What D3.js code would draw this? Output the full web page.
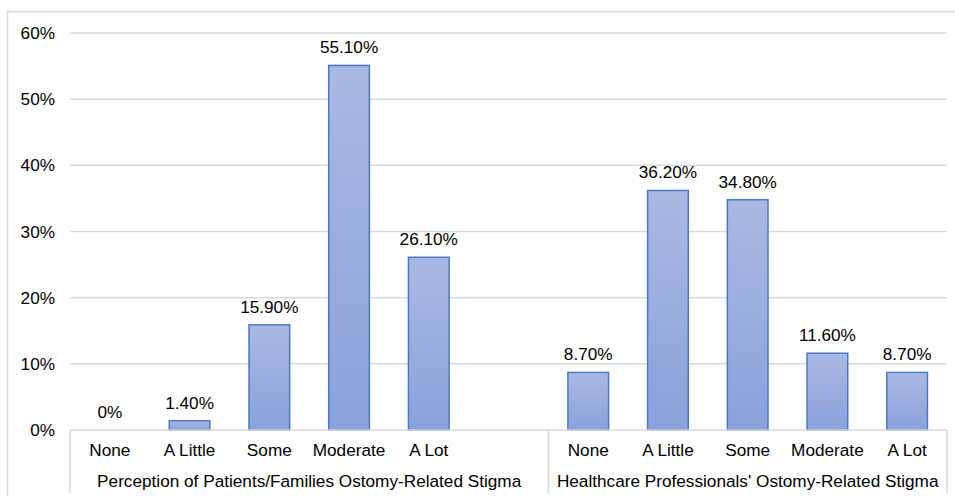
<!DOCTYPE html>
<html>
<head>
<meta charset="utf-8">
<script src="https://cdn.jsdelivr.net/npm/d3@7"></script>
<style>
  html, body { margin: 0; padding: 0; background: #fff; }
  svg { display: block; font-family: "Liberation Sans", Arial, Helvetica, sans-serif; }
</style>
</head>
<body>
<svg id="chart" width="955" height="496"></svg>
<script>
// Stigma ratings by source, as percentage of respondents
const levels = ["None", "A Little", "Some", "Moderate", "A Lot"];
const groups = [
  "Perception of Patients/Families Ostomy-Related Stigma",
  "Healthcare Professionals' Ostomy-Related Stigma"
];
const patientValues = [0, 1.4, 15.9, 55.1, 26.1];
const professionalValues = [8.7, 36.2, 34.8, 11.6, 8.7];
const valueLabels = [
  ["0%", "1.40%", "15.90%", "55.10%", "26.10%"],
  ["8.70%", "36.20%", "34.80%", "11.60%", "8.70%"]
];
const yTicks = [0, 10, 20, 30, 40, 50, 60];
const yTickLabels = ["0%", "10%", "20%", "30%", "40%", "50%", "60%"];

(function draw() {
  const fontSize = 17.2;

  // Slots along the x axis: the first group carries an empty trailing slot
  const slots = [];
  levels.forEach((l, i) => slots.push({ key: "g0-" + i, group: 0, level: l, value: patientValues[i], label: valueLabels[0][i] }));
  slots.push({ key: "g0-blank", group: 0, level: "", value: null, label: "" });
  levels.forEach((l, i) => slots.push({ key: "g1-" + i, group: 1, level: l, value: professionalValues[i], label: valueLabels[1][i] }));

  const svg = d3.select("#chart");
  const plotLeft = 70, plotRight = 947, plotTop = 33, plotBottom = 430;

  const x = d3.scaleBand().domain(slots.map(d => d.key)).range([plotLeft, plotRight]).padding(0);
  const y = d3.scaleLinear().domain([0, 60]).range([plotBottom, plotTop]);

  const defs = svg.append("defs");
  const grad = defs.append("linearGradient").attr("id", "barFill")
    .attr("x1", 0).attr("y1", 0).attr("x2", 0).attr("y2", 1);
  grad.append("stop").attr("offset", "0%").attr("stop-color", "#abb9e2");
  grad.append("stop").attr("offset", "100%").attr("stop-color", "#8aa1db");

  // Outer chart frame
  svg.append("rect")
    .attr("x", 7.5).attr("y", 11.5).attr("width", 960).attr("height", 500)
    .attr("fill", "none").attr("stroke", "#d9d9d9").attr("stroke-width", 1.5);

  // Horizontal gridlines
  svg.append("g").selectAll("line").data(yTicks.filter(t => t > 0)).join("line")
    .attr("x1", plotLeft).attr("x2", plotRight)
    .attr("y1", d => y(d)).attr("y2", d => y(d))
    .attr("stroke", "#d9d9d9").attr("stroke-width", 1.5);

  // Y axis labels
  svg.append("g").selectAll("text").data(yTicks).join("text")
    .attr("x", 55).attr("y", d => y(d)).attr("dy", "0.35em")
    .attr("text-anchor", "end").attr("font-size", fontSize).attr("fill", "#000")
    .text((d, i) => yTickLabels[i]);

  // Bars
  const bw = x.bandwidth() * 0.51;
  const barData = slots.filter(d => d.value !== null);
  svg.append("g").selectAll("rect").data(barData.filter(d => d.value > 0)).join("rect")
    .attr("x", d => x(d.key) + (x.bandwidth() - bw) / 2)
    .attr("y", d => y(d.value))
    .attr("width", bw)
    .attr("height", d => y(0) - y(d.value))
    .attr("fill", "url(#barFill)")
    .attr("stroke", "#4a78c8").attr("stroke-width", 1.5);

  // Value labels
  svg.append("g").selectAll("text").data(barData).join("text")
    .attr("x", d => x(d.key) + x.bandwidth() / 2)
    .attr("y", d => y(d.value) - 18).attr("dy", "0.35em")
    .attr("text-anchor", "middle").attr("font-size", fontSize).attr("fill", "#000")
    .text(d => d.label);

  // Category axis line and group separators
  const axis = svg.append("g").attr("stroke", "#d9d9d9").attr("stroke-width", 1.5);
  axis.append("line").attr("x1", plotLeft).attr("x2", plotRight).attr("y1", plotBottom).attr("y2", plotBottom);
  const groupStart = [x("g0-0"), x("g1-0"), plotRight];
  groupStart.forEach(gx => {
    axis.append("line").attr("x1", gx).attr("x2", gx).attr("y1", plotBottom).attr("y2", 493);
  });

  // Category labels
  svg.append("g").selectAll("text").data(slots.filter(d => d.level)).join("text")
    .attr("x", d => x(d.key) + x.bandwidth() / 2)
    .attr("y", 450).attr("dy", "0.35em")
    .attr("text-anchor", "middle").attr("font-size", fontSize).attr("fill", "#000")
    .text(d => d.level);

  // Group labels
  svg.append("g").selectAll("text").data(groups).join("text")
    .attr("x", (d, i) => (groupStart[i] + groupStart[i + 1]) / 2)
    .attr("y", 481).attr("dy", "0.35em")
    .attr("text-anchor", "middle").attr("font-size", fontSize).attr("fill", "#000")
    .text(d => d);
})();
</script>
</body>
</html>
